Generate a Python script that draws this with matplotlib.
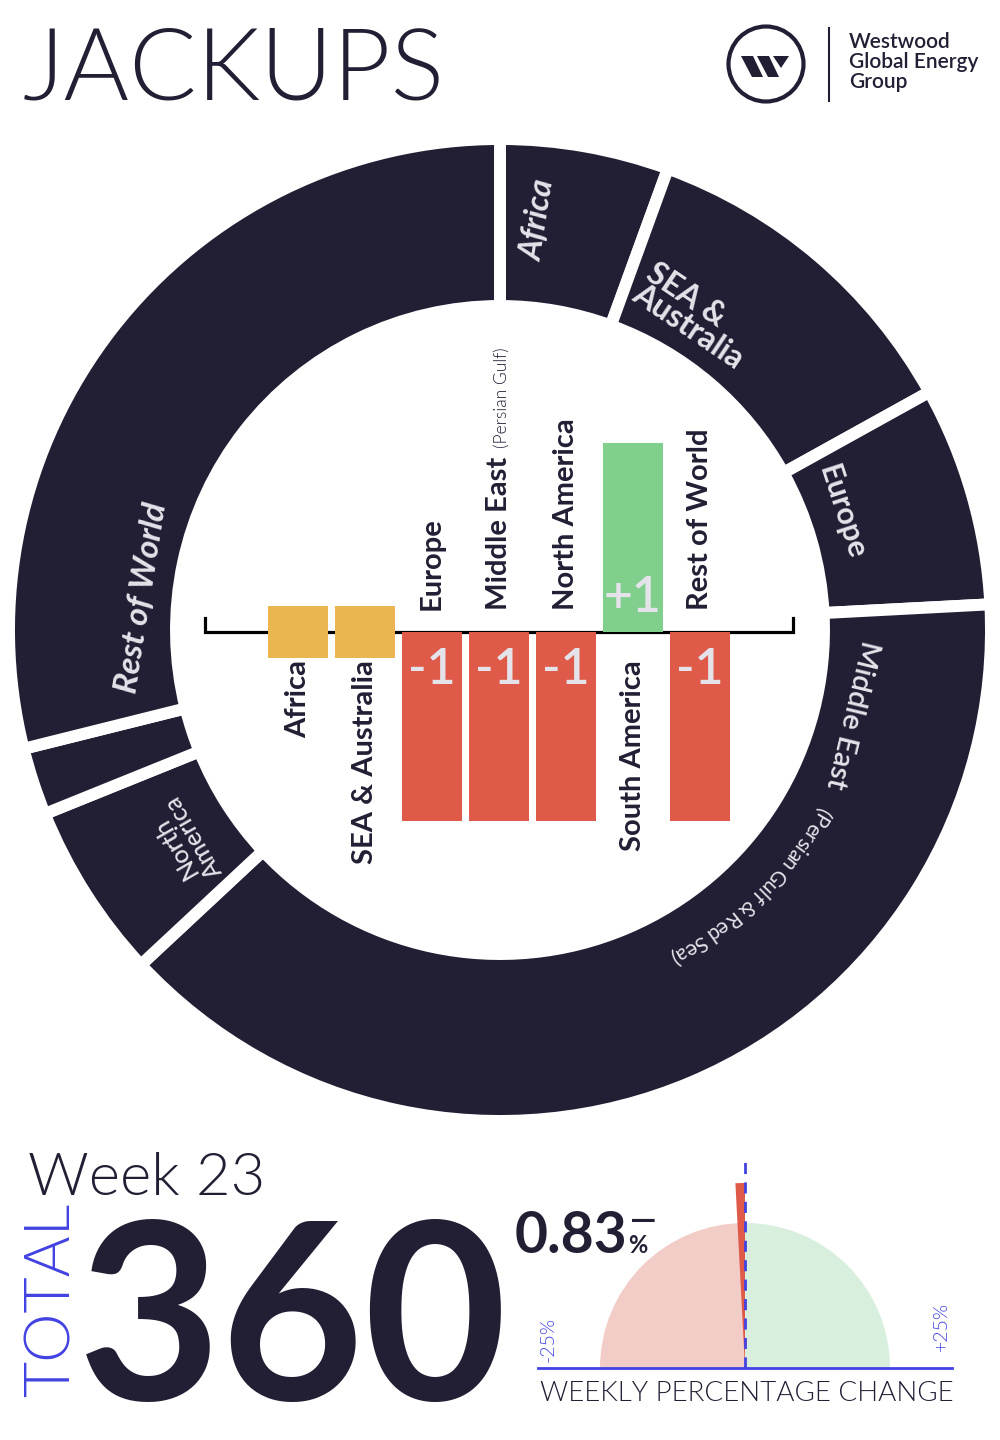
import os
import matplotlib.pyplot as plt
import numpy as np
from matplotlib import font_manager as fm
from matplotlib.patches import Wedge, Circle, Polygon
from matplotlib.font_manager import FontProperties
from matplotlib.textpath import text_to_path

# data
regions = ["Africa", "SEA & Australia", "Europe", "Middle East",
           "North America", "South America", "Rest of World"]
rig_counts = [20, 41, 26, 140, 21, 8, 104]
weekly_change = [0, 0, -1, -1, -1, 1, -1]
week_no = 23
gauge_limit = 25

# colours
dark = "#221f35"
light = "#e4e3ea"
blue = "#4242e2"
red = "#df5a49"
green = "#80cf8d"
yellow = "#ebb54f"

plt.rcParams['font.family'] = ['Lato', 'DejaVu Sans']


# pick the real Lato Light file if it is there (weight='light' lands on a hairline cut)
def lato(size, cut="Light", fallback="light"):
    for f in fm.fontManager.ttflist:
        if os.path.basename(f.fname).lower() == f"lato-{cut.lower()}.ttf":
            return FontProperties(fname=f.fname, size=size)
    return FontProperties(family='Lato', weight=fallback, size=size)


W, H = 1000, 1440
fig = plt.figure(figsize=(10, 14.4), dpi=100)
ax = fig.add_axes([0, 0, 1, 1])


def Y(y):
    return H - y


# donut
cx, cy = 500, Y(630)
ax.pie(rig_counts, center=(cx, cy), radius=491, startangle=90, counterclock=False,
       colors=[dark] * len(rig_counts),
       wedgeprops=dict(width=167, edgecolor='white', linewidth=8.6))
ax.set_xlim(0, W)
ax.set_ylim(0, H)
ax.set_aspect('equal')
ax.axis('off')

ring = dict(color=light, ha='center', va='center', rotation_mode='anchor')
ax.text(538, Y(221), "Africa", fontsize=23, rotation=81, style='italic', weight='bold', **ring)
ax.text(695, Y(316), "SEA &\nAustralia", fontsize=23, rotation=-34, multialignment='left',
        linespacing=0.88, weight='bold', **ring)
ax.text(842, Y(512), "Europe", fontsize=22, rotation=-72, weight='bold', **ring)
ax.text(852, Y(715), "Middle East", fontsize=21, rotation=-103.6, weight='semibold', **ring)
ax.text(184, Y(842), "North\nAmerica", fontsize=18, rotation=120, linespacing=0.95,
        weight='medium', **ring)
ax.text(142, Y(598), "Rest of World", fontsize=24, rotation=81, style='italic',
        weight='bold', **ring)

# curved sub label along the Middle East segment
sub = "(Persian Gulf & Red Sea)"
fp = lato(15, "Regular", "normal")
r_txt = 370
s = 0.0
theta0 = np.radians(119.0)
for ch in sub:
    w_pt = text_to_path.get_text_width_height_descent(ch, fp, ismath=False)[0]
    w_px = w_pt * 100 / 72 * 0.97
    th = theta0 + (s + w_px / 2) / r_txt
    x = cx + r_txt * np.sin(th)
    y = cy + r_txt * np.cos(th)
    ax.text(x, y, ch, fontproperties=fp, color=light, rotation=-np.degrees(th),
            ha='center', va='center', rotation_mode='anchor')
    s += w_px

# bar chart in the middle
bax = fig.add_axes([205 / W, (H - 915.5) / H, 588 / W, 567 / H])
bax.set_xlim(-1.388, 7.388)
bax.set_ylim(-1.5, 1.5)
bax.axis('off')
bax.patch.set_alpha(0)

bax.plot([-1.388, -1.388, 7.388, 7.388], [0.075, 0, 0, 0.075], color='black', lw=2.3,
         clip_on=False, zorder=1, solid_joinstyle='miter')

for i, v in enumerate(weekly_change):
    if v == 0:
        bax.bar(i, 0.275, bottom=-0.14, width=0.9, color=yellow, zorder=2)
    else:
        bax.bar(i, v, width=0.9, color=red if v < 0 else green, zorder=2)
        bax.text(i, -0.2 if v < 0 else 0.18, f"{v:+d}" if v > 0 else f"{v}",
                 color=light, fontsize=36, weight='semibold', ha='center', va='center')

for i, (name, v) in enumerate(zip(regions, weekly_change)):
    if v < 0:
        t = bax.text(i, 0.116, name, rotation=90, ha='center', va='bottom',
                     fontsize=21, weight='bold', color=dark)
        if name == "Middle East":
            bax.annotate("(Persian Gulf)", xy=(1, 1), xycoords=t, xytext=(-1.5, 6),
                         textcoords='offset points', rotation=90, ha='right', va='bottom',
                         fontproperties=lato(12.5), color=dark)
    else:
        bax.text(i, -0.148, name, rotation=90, ha='center', va='top',
                 fontsize=21, weight='bold', color=dark)

# header
ax.text(23, Y(100), "JACKUPS", fontproperties=lato(72), color=dark, ha='left', va='baseline')
ax.add_patch(Circle((766, Y(64)), 37.5, fill=False, ec=dark, lw=3))
for pts in ([(741, 56), (753, 56), (763, 77), (752, 77)],
            [(757, 56), (769, 56), (779, 77), (768, 77)],
            [(773, 56), (789, 56), (781, 68)]):
    ax.add_patch(Polygon([(px, Y(py)) for px, py in pts], closed=True, color=dark, lw=0))
ax.plot([829, 829], [Y(28), Y(101)], color=dark, lw=1.5)
ax.text(849, Y(32), "Westwood\nGlobal Energy\nGroup", fontsize=15, weight='semibold',
        color=dark, ha='left', va='top', linespacing=1.0)

# footer
total = sum(rig_counts)
net = sum(weekly_change)
pct = net / (total - net) * 100

ax.text(28, Y(1195), f"Week {week_no}", fontproperties=lato(43), color=dark, va='baseline')
ax.text(24, Y(1397), "TOTAL", fontproperties=lato(45), color=blue, rotation=90,
        ha='left', va='bottom')
ax.text(78, Y(1400), f"{total}", fontsize=178, weight='bold', color=dark, va='baseline')
ax.text(515, Y(1253), f"{abs(pct):.2f}", fontsize=41, weight='bold', color=dark, va='baseline')
ax.text(628, Y(1253), "%", fontsize=17, weight='bold', color=dark, va='baseline')
ax.text(643, Y(1221), "\u2014" if pct < 0 else "+", fontsize=24, weight='bold', color=dark,
        ha='center', va='center')

gx, gy = 745, Y(1368)
ax.add_patch(Wedge((gx, gy), 145, 90, 180, color="#f2cdc7", lw=0))
ax.add_patch(Wedge((gx, gy), 145, 0, 90, color="#d9efdd", lw=0))
ax.add_patch(Wedge((gx, gy), 185, 90, 90 - pct / gauge_limit * 90, color=red, lw=0))
ax.plot([538, 952], [gy, gy], color=blue, lw=2)
ax.plot([gx, gx], [gy, Y(1160)], color=blue, lw=2, ls=(0, (4, 3)))
ax.text(548, Y(1339), f"-{gauge_limit}%", fontproperties=lato(14), color=blue,
        rotation=90, ha='center', va='center')
ax.text(941, Y(1326), f"+{gauge_limit}%", fontproperties=lato(14), color=blue,
        rotation=90, ha='center', va='center')
ax.text(540, Y(1401), "WEEKLY PERCENTAGE CHANGE", fontproperties=lato(20), color=dark,
        va='baseline')

fig.savefig("out.png", dpi=100)
